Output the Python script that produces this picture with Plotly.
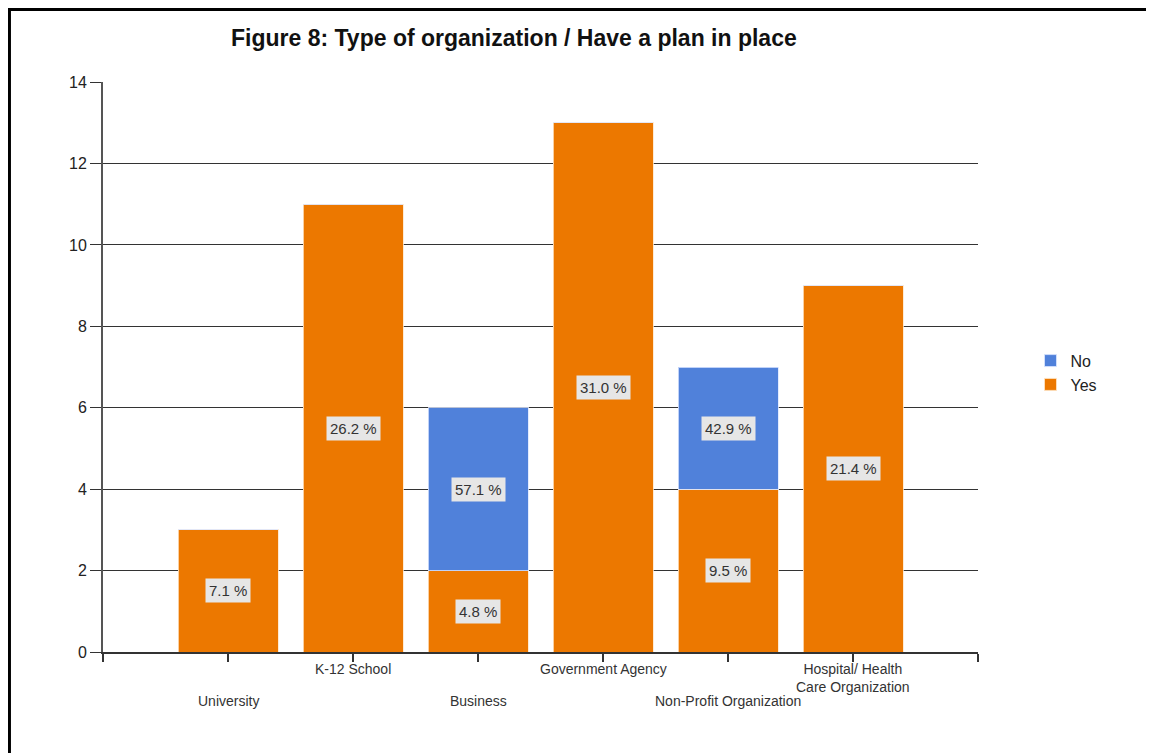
import plotly.graph_objects as go

categories = ["University", "K-12 School", "Business", "Government Agency",
              "Non-Profit Organization", "Hospital/ Health<br>Care Organization"]
yes_values = [3, 11, 2, 13, 4, 9]
no_values = [0, 0, 4, 0, 3, 0]
y_ticks = [0, 2, 4, 6, 8, 10, 12, 14]
title_text = "Figure 8: Type of organization / Have a plan in place"

x_pos = list(range(len(categories)))
yes_total = sum(yes_values)
no_total = sum(no_values)

ORANGE = "#EC7800"
BLUE = "#5081DA"
FONT = "Liberation Sans, Arial, sans-serif"

fig = go.Figure()
fig.add_trace(go.Bar(x=x_pos, y=yes_values, name="Yes", width=0.8,
                     marker=dict(color=ORANGE, line=dict(color="rgba(255,230,200,0.8)", width=1))))
fig.add_trace(go.Bar(x=x_pos, y=no_values, name="No", width=0.8,
                     marker=dict(color=BLUE, line=dict(color="rgba(220,230,255,0.8)", width=1))))

annotations = []
for i, (yv, nv) in enumerate(zip(yes_values, no_values)):
    if yv > 0:
        annotations.append(dict(x=i, y=yv / 2, xref="x", yref="y",
                                text=f"{yv / yes_total * 100:.1f} %", showarrow=False,
                                bgcolor="#E6E6E6", borderpad=3,
                                font=dict(family=FONT, size=15, color="#333333")))
    if nv > 0:
        annotations.append(dict(x=i, y=yv + nv / 2, xref="x", yref="y",
                                text=f"{nv / no_total * 100:.1f} %", showarrow=False,
                                bgcolor="#E6E6E6", borderpad=3,
                                font=dict(family=FONT, size=15, color="#333333")))

for i, cat in enumerate(categories):
    annotations.append(dict(x=i, y=-0.012 if i % 2 else -0.069, xref="x", yref="paper",
                            text=cat, showarrow=False, yanchor="top", xanchor="center",
                            font=dict(family=FONT, size=14, color="#333333")))

annotations.append(dict(x=0.4697, y=1.077, xref="paper", yref="paper", text=f"<b>{title_text}</b>",
                        showarrow=False, xanchor="center", yanchor="middle",
                        font=dict(family=FONT, size=23, color="#111111")))

# frame around the picture (left and top edges)
shapes = [
    dict(type="line", xref="paper", yref="paper", x0=-0.1069, x1=-0.1069, y0=1.13, y1=-0.2,
         line=dict(color="black", width=3)),
    dict(type="line", xref="paper", yref="paper", x0=-0.1086, x1=1.22, y0=1.1272, y1=1.1272,
         line=dict(color="black", width=3)),
]

fig.update_layout(
    barmode="stack",
    width=1146, height=745,
    margin=dict(l=95, r=176, t=74, b=101, autoexpand=False),
    paper_bgcolor="white", plot_bgcolor="white",
    font=dict(family=FONT, color="#222222"),
    showlegend=True,
    legend=dict(x=1.06, y=0.49, xanchor="left", yanchor="middle", traceorder="reversed",
                font=dict(family=FONT, size=16, color="#222222"), itemwidth=30,
                tracegroupgap=0),
    annotations=annotations,
    shapes=shapes,
    bargap=0.2,
)
fig.update_xaxes(range=[-1, len(categories)], tickvals=list(range(-1, len(categories) + 1)),
                 ticktext=[""] * (len(categories) + 2), ticks="outside", ticklen=8,
                 tickwidth=2, tickcolor="#333333", showline=True, linecolor="#333333",
                 linewidth=2, showgrid=False, zeroline=False)
fig.update_yaxes(range=[0, 14.002], tickvals=y_ticks, ticks="outside", ticklen=11, tickwidth=1,
                 tickcolor="#333333", showline=True, linecolor="#555555", linewidth=2,
                 showgrid=True, gridcolor="#333333", gridwidth=1, zeroline=False,
                 tickfont=dict(family=FONT, size=16, color="#222222"))

fig.write_html("out.html")
